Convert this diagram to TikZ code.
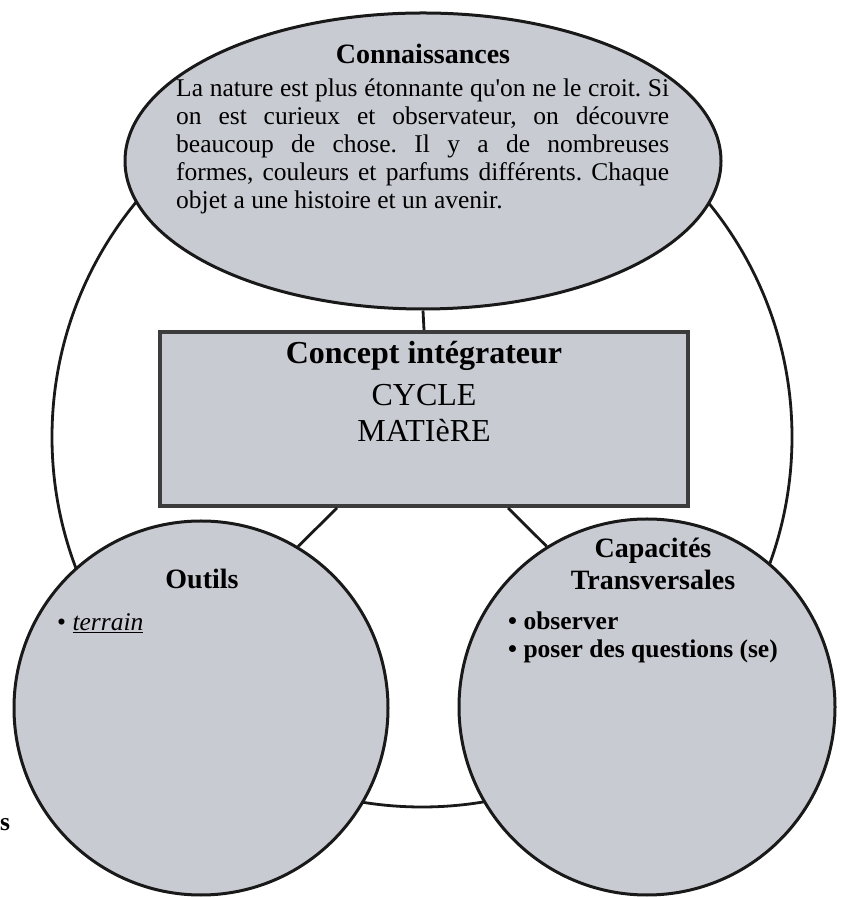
\documentclass[tikz,border=0pt]{standalone}
\usepackage{fontspec}
\setmainfont{Liberation Serif}
\usetikzlibrary{shapes.geometric}
\definecolor{grisbleu}{RGB}{201,203,211}
\definecolor{trait}{RGB}{25,25,25}
\frenchspacing

\begin{document}
\begin{tikzpicture}[x=1pt,y=1pt]
% style des noeuds
\tikzstyle{bulle} = [ellipse, draw=trait, fill=grisbleu, line width=3pt, inner sep=0pt]
\tikzstyle{rond} = [circle, draw=trait, fill=grisbleu, line width=3pt, inner sep=0pt]
\tikzstyle{cadre} = [rectangle, draw=trait!85, fill=grisbleu, line width=4pt, inner sep=0pt]
\tikzstyle{titre} = [font=\fontsize{28}{32}\selectfont\bfseries, align=center, inner sep=0pt]
\tikzstyle{liste} = [font=\fontsize{25.5}{28}\selectfont, align=left, inner sep=0pt]
% style des traits
\tikzstyle{lien} = [draw=trait, line width=2.8pt]

\useasboundingbox (0,0) rectangle (841,897);

%% placement des noeuds
\node[circle, lien, minimum size=740pt, inner sep=0pt] (anneau) at (422,460) {};
\node[bulle, minimum width=596pt, minimum height=296pt] (connaissances) at (423,736) {};
\node[cadre, minimum width=528pt, minimum height=174pt] (concept) at (424,478) {};
\node[rond, minimum size=374pt] (outils) at (201,189) {};
\node[rond, minimum size=376pt] (capacites) at (647,190) {};
%
%% textes
\node[titre] (titreconn) at (423,843) {Connaissances};
\node[liste, anchor=north west, text width=493pt, align=justify] (texteconn) at (176,818)
  {La nature est plus étonnante qu\textquotesingle on ne le croit. Si\linebreak
   on est curieux et observateur, on découvre\linebreak
   beaucoup de chose. Il y a de nombreuses\linebreak
   formes, couleurs et parfums différents. Chaque\linebreak
   objet a une histoire et un avenir.};
\node[font=\fontsize{32}{34}\selectfont\bfseries, inner sep=0pt] (titreconcept) at (424,541) {Concept intégrateur};
\node[font=\fontsize{32}{36}\selectfont, align=center, inner sep=0pt] (cycle) at (424,484) {CYCLE\\MATIèRE};
\node[titre] (titreoutils) at (202,318) {Outils};
\node[liste, anchor=base west] (terrain) at (57,266) {• \underline{\textit{terrain}}};
\node[titre] (titrecap) at (653,333) {Capacités\\Transversales};
\node[liste, font=\fontsize{25.5}{28}\selectfont\bfseries, anchor=north west] (capliste) at (508,285)
  {• observer\\• poser des questions (se)};
\node[liste, font=\fontsize{25.5}{28}\selectfont\bfseries, anchor=base west] (reste) at (0,66) {s};
%
%% placement des traits
\draw[lien] (connaissances.south) -- (concept.north);
\draw[lien] ([xshift=-87pt]concept.south) -- (outils.59);
\draw[lien] ([xshift=84pt]concept.south) -- (capacites.122);
\end{tikzpicture}
\end{document}
